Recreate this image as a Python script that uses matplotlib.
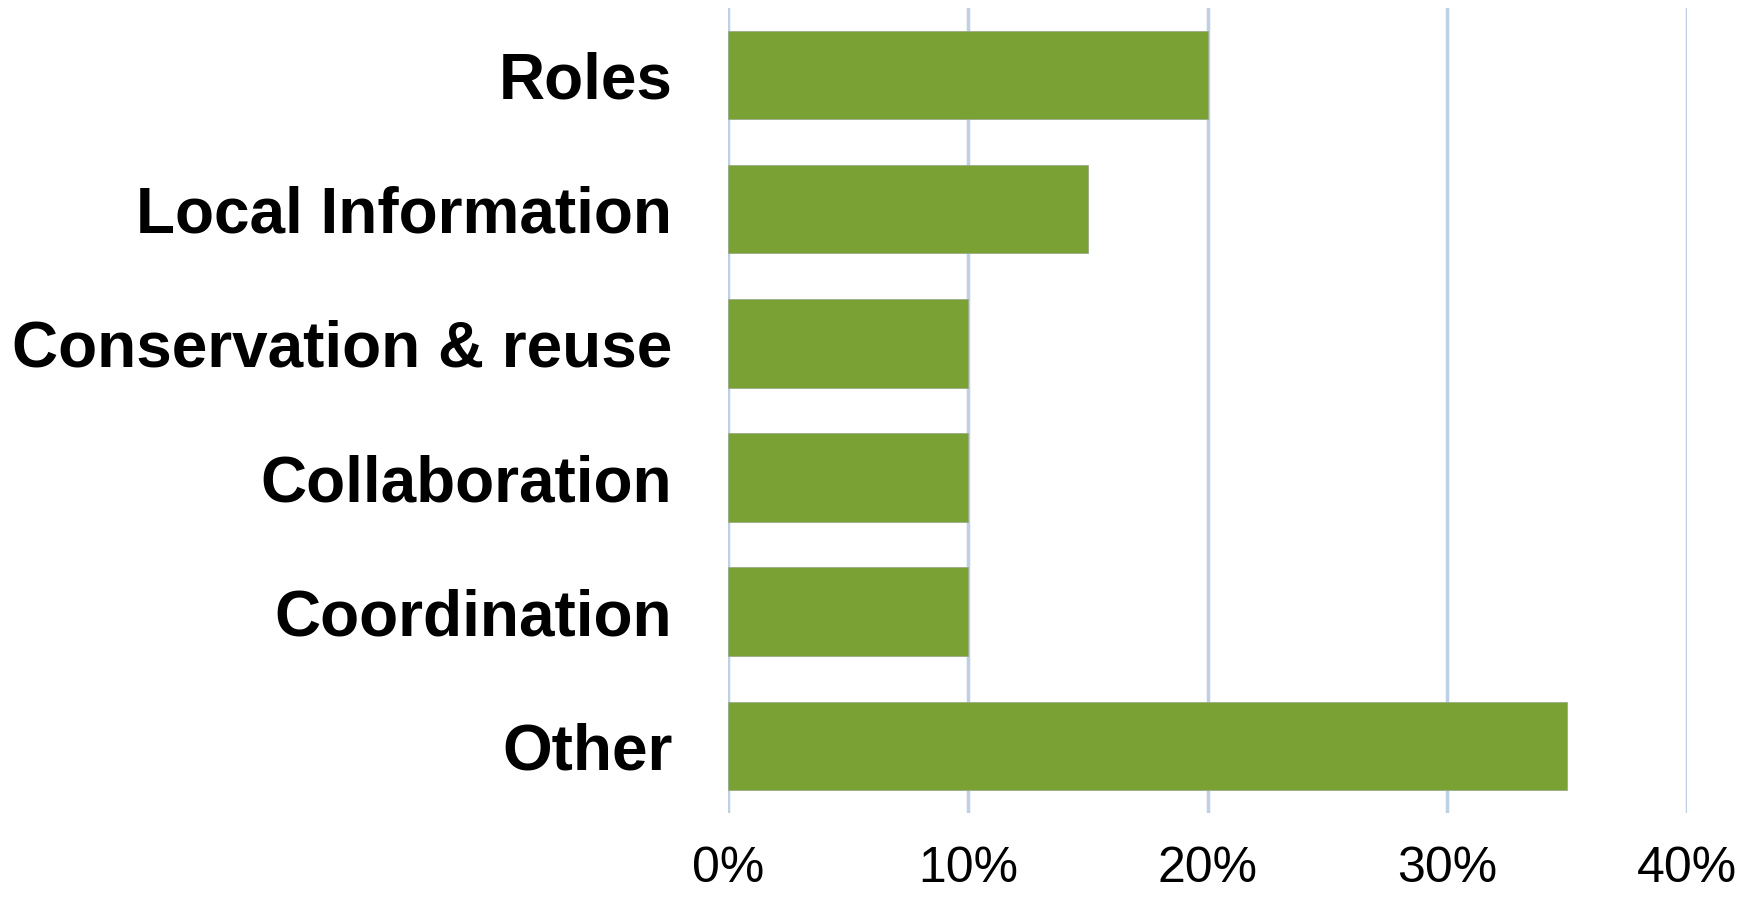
import matplotlib.pyplot as plt
from matplotlib.ticker import PercentFormatter

# categories top to bottom and their shares (%)
categories = ['Roles', 'Local Information', 'Conservation & reuse',
              'Collaboration', 'Coordination', 'Other']
shares = [20, 15, 10, 10, 10, 35]
x_ticks = [0, 10, 20, 30, 40]

plt.rcParams['font.family'] = ['Liberation Sans', 'DejaVu Sans']

fig = plt.figure(figsize=(17.59, 8.97), dpi=100)
ax = fig.add_axes([0.4139, 0.0937, 0.5452, 0.8974])

pos = list(range(len(categories)))
ax.barh(pos, shares, height=0.66, color='#7AA133', edgecolor='#9AAA88',
        linewidth=0.6, zorder=3)

ax.set_ylim(len(categories) - 0.5, -0.5)
ax.set_yticks(pos)
ax.set_yticklabels(categories, fontsize=46, fontweight='bold')
ax.set_xlim(0, 40)
ax.set_xticks(x_ticks)
ax.xaxis.set_major_formatter(PercentFormatter(decimals=0))
ax.tick_params(axis='x', labelsize=36, length=0, pad=24)
ax.tick_params(axis='y', length=0, pad=40)

ax.grid(axis='x', color='#BDD0E6', linewidth=2.5, zorder=0)
for s in ax.spines.values():
    s.set_visible(False)

fig.savefig('out.png', dpi=100)
